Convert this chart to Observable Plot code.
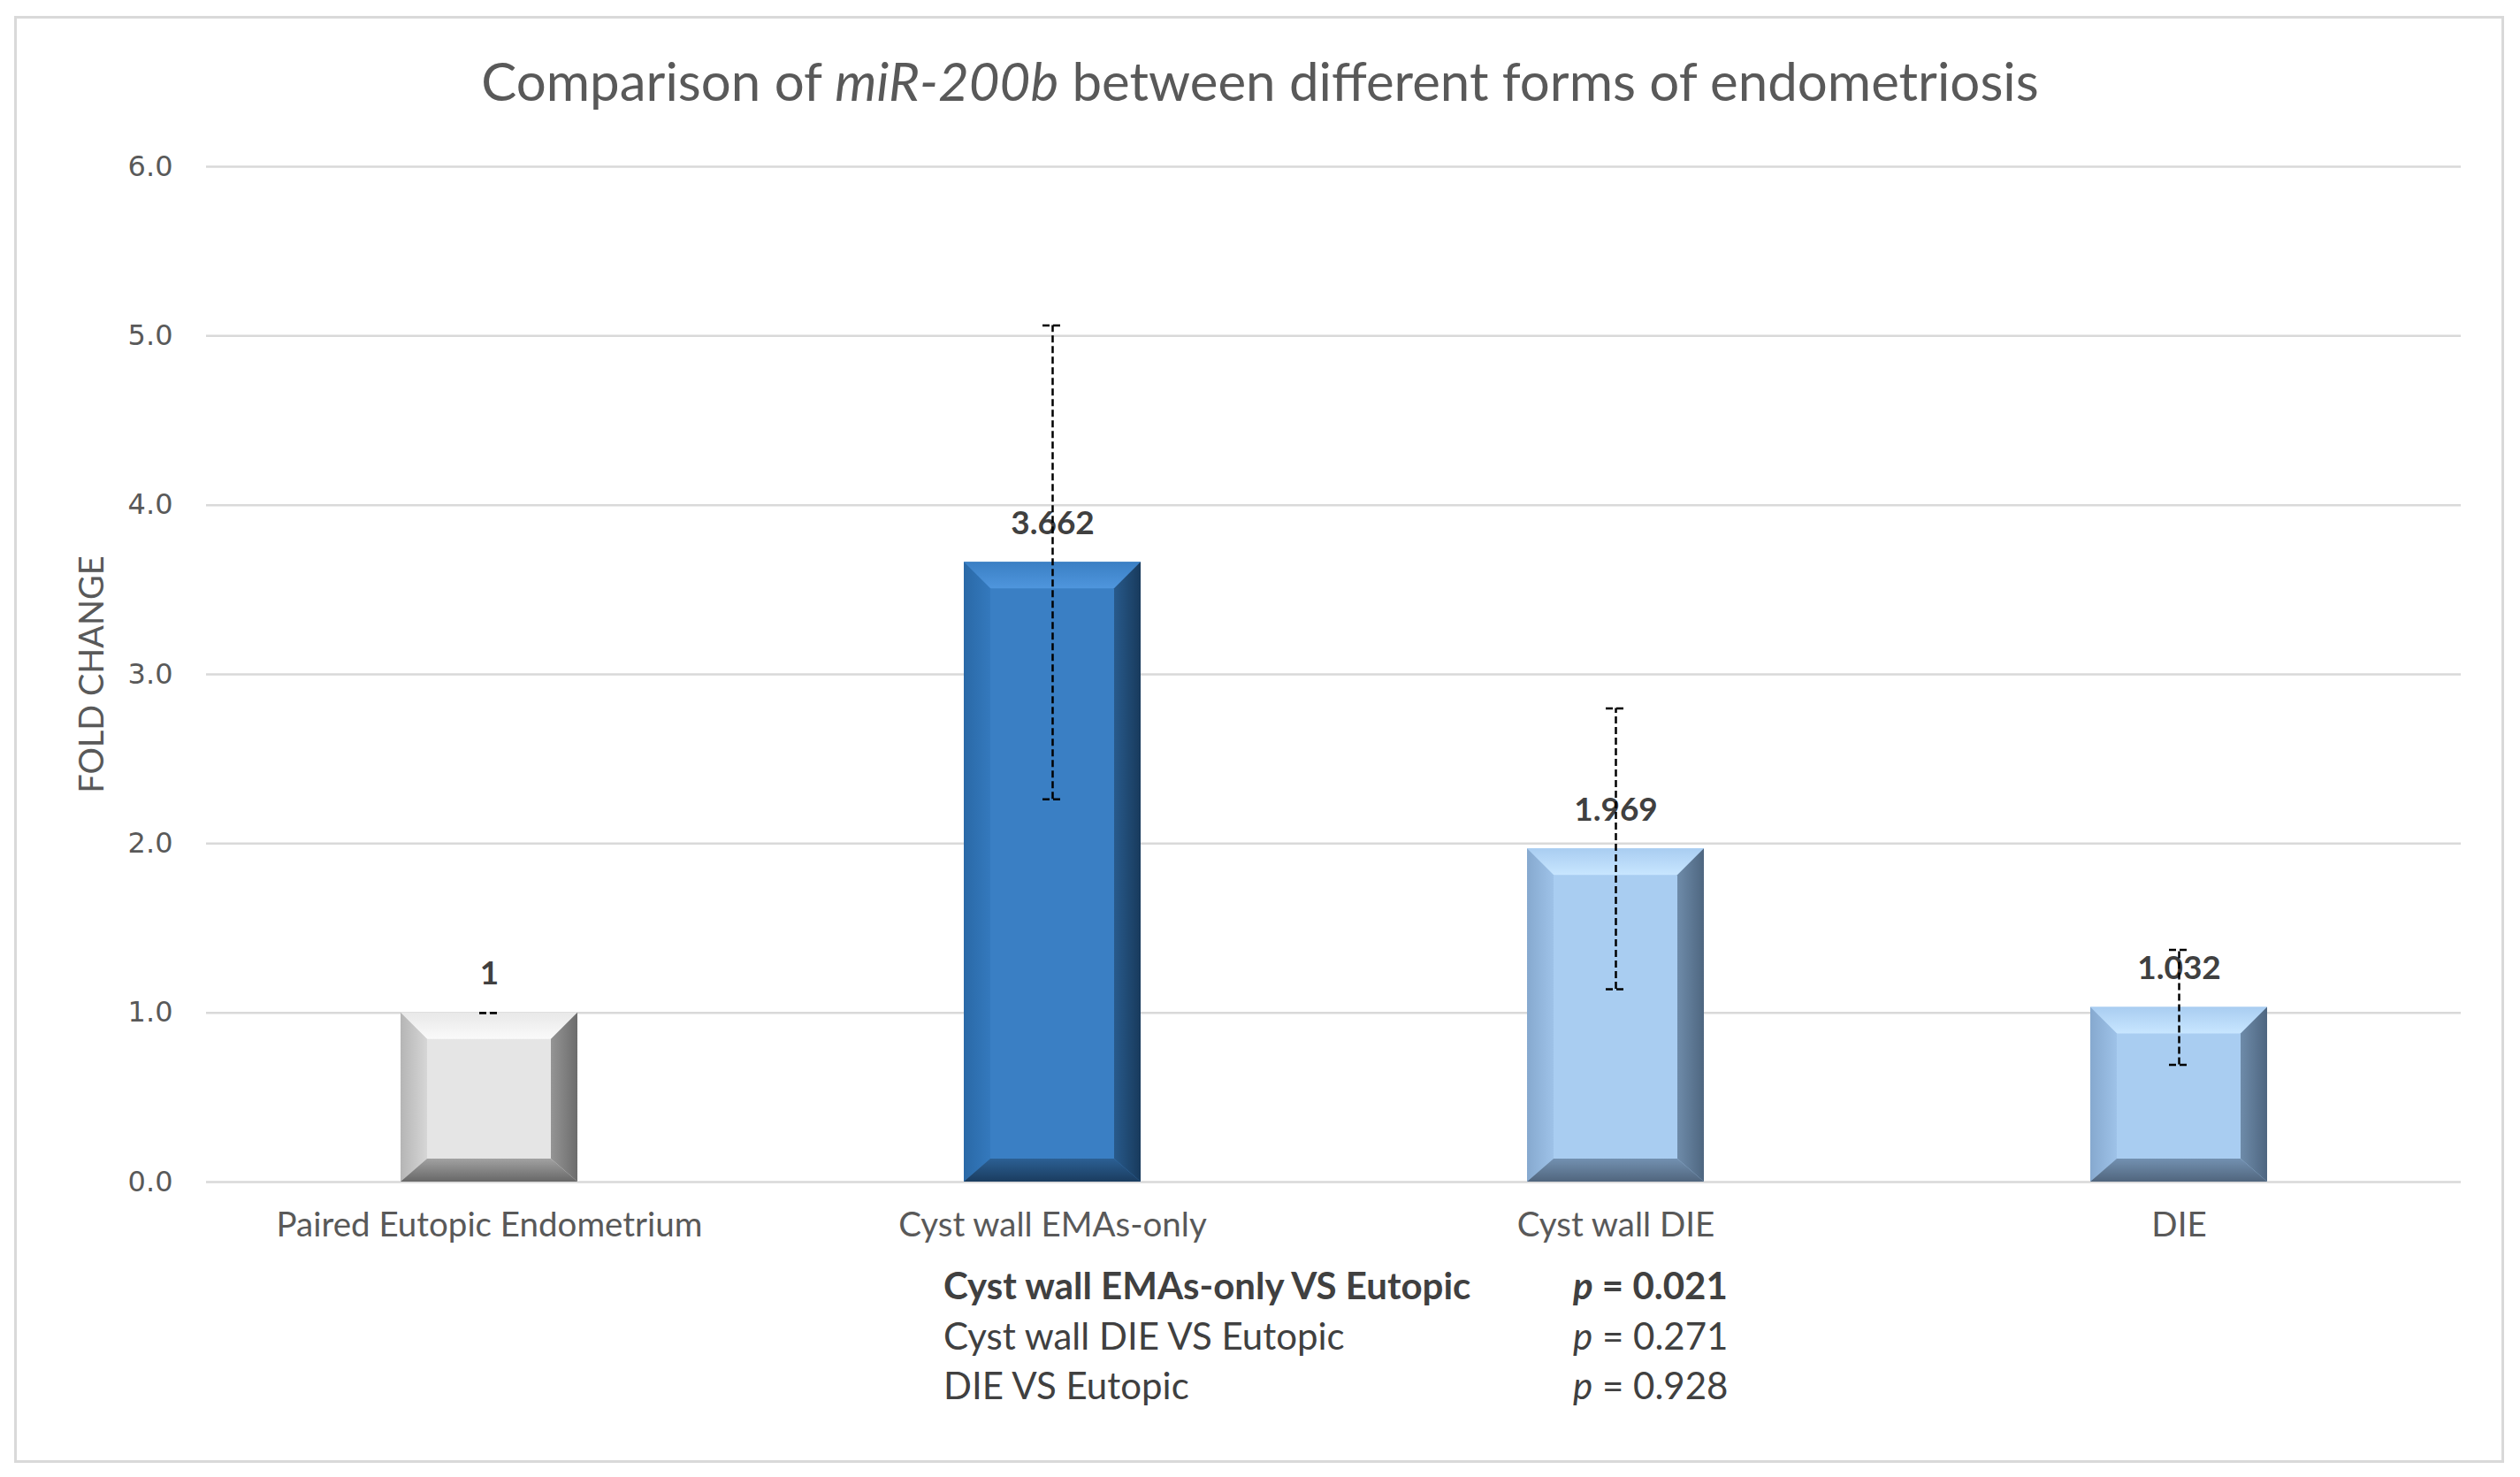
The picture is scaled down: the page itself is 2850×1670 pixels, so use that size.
<!DOCTYPE html>
<html><head><meta charset="utf-8">
<script src="https://cdn.jsdelivr.net/npm/d3@7"></script>
<script src="https://cdn.jsdelivr.net/npm/@observablehq/plot@0.6"></script>
<style>
html,body{margin:0;padding:0;background:#fff;}
#page{position:relative;width:2850px;height:1670px;overflow:hidden;background:#fff;font-family:Lato,"Open Sans",sans-serif;}
#frame{position:absolute;left:16px;top:18px;width:2816px;height:1636px;border:3px solid #d9d9d9;box-sizing:border-box;}
#title{position:absolute;left:0;width:2850px;top:56px;text-align:center;font-size:60px;color:#595959;line-height:70px;white-space:nowrap;}
#chart{position:absolute;left:0;top:0;}
.row{position:absolute;white-space:nowrap;font-size:42px;color:#404040;line-height:56px;}
</style></head>
<body><div id="page"><div id="frame"></div><div id="title"></div><div id="chart"></div><div id="stats"></div></div>
<script>
// ---- data ----
const categories = ["Paired Eutopic Endometrium", "Cyst wall EMAs-only", "Cyst wall DIE", "DIE"];
const foldChange = [1, 3.662, 1.969, 1.032];
const errorSize = [0, 1.40, 0.83, 0.34];
const yTicks = [0, 1, 2, 3, 4, 5, 6];
const comparisons = ["Cyst wall EMAs-only VS Eutopic", "Cyst wall DIE VS Eutopic", "DIE VS Eutopic"];
const pValues = ["0.021", "0.271", "0.928"];
const significant = [true, false, false];
const titleBefore = "Comparison of ";
const titleGene = "miR-200b";
const titleAfter = " between different forms of endometriosis";
const yLabel = "FOLD CHANGE";

// ---- styles ----
const faces = ["#e5e5e5", "#3a7fc4", "#a9cdf1", "#a9cdf1"];
const bevel = [
  {top:["#e8e8e8","#fafafa"], left:["#b5b5b5","#d6d6d6"], right:["#6c6c6c","#959595"], bottom:["#676767","#a2a2a2"]},
  {top:["#3a7fc4","#4f96dd"], left:["#2a69a7","#3479bd"], right:["#183a5c","#285a8b"], bottom:["#1a3c5f","#2c6094"]},
  {top:["#a9cdf1","#c8e6ff"], left:["#86a9cf","#9ec2e8"], right:["#4e6680","#6e8ba9"], bottom:["#50657d","#7391b1"]},
  {top:["#a9cdf1","#c8e6ff"], left:["#86a9cf","#9ec2e8"], right:["#4e6680","#6e8ba9"], bottom:["#50657d","#7391b1"]}
];

const data = categories.map((c, i) => ({category: c, value: foldChange[i], err: errorSize[i], idx: i}));

const capHalf = 11;
const barBand = 200;
const capInset = barBand / 2 - capHalf;

const plot = Plot.plot({
  width: 2850, height: 1480,
  marginLeft: 233, marginRight: 67, marginTop: 188, marginBottom: 144,
  style: {fontFamily: "Lato", background: "transparent", overflow: "visible"},
  x: {domain: categories, paddingInner: 0.6863, paddingOuter: 0.34315, label: null},
  y: {domain: [0, 6], label: null},
  color: {type: "identity"},
  marks: [
    Plot.gridY(yTicks, {stroke: "#d9d9d9", strokeOpacity: 1, strokeWidth: 2.5}),
    Plot.axisY(yTicks, {tickSize: 0, tickPadding: 38, tickFormat: d => d.toFixed(1), fontSize: 32, fontFamily: "DejaVu Sans", fill: "#595959", label: null}),
    Plot.axisX({tickSize: 0, tickPadding: 34, fontSize: 38.5, fontFamily: "Lato", fill: "#595959", label: null}),
    Plot.barY(data, {x: "category", y: "value", fill: d => faces[d.idx]}),
    Plot.text(data, {x: "category", y: "value", text: d => String(d.value), dy: -44, fontSize: 37, fontWeight: "bold", fill: "#404040", fontFamily: "Lato"}),
    Plot.ruleX(data, {x: "category", y1: d => d.value - d.err, y2: d => d.value + d.err, stroke: "#000", strokeWidth: 2.5, strokeDasharray: "8,4"}),
    Plot.tickY(data, {x: "category", y: d => d.value + d.err, stroke: "#000", strokeWidth: 2.5, strokeDasharray: "8,4", insetLeft: capInset, insetRight: capInset}),
    Plot.tickY(data, {x: "category", y: d => d.value - d.err, stroke: "#000", strokeWidth: 2.5, strokeDasharray: "8,4", insetLeft: capInset, insetRight: capInset}),
    Plot.text([yLabel], {frameAnchor: "left", textAnchor: "middle", rotate: -90, dx: -129, fontSize: 38, fill: "#595959", fontFamily: "Lato"})
  ]
});
document.getElementById("chart").appendChild(plot);

// ---- bevel decoration derived from the rendered bars ----
const svg = d3.select(plot);
const defs = svg.insert("defs", ":first-child");
function grad(id, c0, c1, x1, y1, x2, y2) {
  const g = defs.append("linearGradient").attr("id", id).attr("x1", x1).attr("y1", y1).attr("x2", x2).attr("y2", y2);
  g.append("stop").attr("offset", "0").attr("stop-color", c0);
  g.append("stop").attr("offset", "1").attr("stop-color", c1);
}
svg.selectAll('g[aria-label="bar"] rect').each(function(_, i) {
  const r = d3.select(this);
  const x = +r.attr("x"), y = +r.attr("y"), w = +r.attr("width"), h = +r.attr("height");
  const b = 30, bb = 26;
  const bv = bevel[i];
  grad("t" + i, bv.top[0], bv.top[1], 0, 0, 0, 1);
  grad("l" + i, bv.left[0], bv.left[1], 0, 0, 1, 0);
  grad("r" + i, bv.right[1], bv.right[0], 0, 0, 1, 0);
  grad("b" + i, bv.bottom[1], bv.bottom[0], 0, 0, 0, 1);
  const parent = d3.select(this.parentNode);
  const pts = a => a.map(p => p.join(",")).join(" ");
  parent.append("polygon").attr("points", pts([[x,y],[x+w,y],[x+w-b,y+b],[x+b,y+b]])).attr("fill", `url(#t${i})`);
  parent.append("polygon").attr("points", pts([[x,y],[x+b,y+b],[x+b,y+h-bb],[x,y+h]])).attr("fill", `url(#l${i})`);
  parent.append("polygon").attr("points", pts([[x+w,y],[x+w,y+h],[x+w-b,y+h-bb],[x+w-b,y+b]])).attr("fill", `url(#r${i})`);
  parent.append("polygon").attr("points", pts([[x,y+h],[x+b,y+h-bb],[x+w-b,y+h-bb],[x+w,y+h]])).attr("fill", `url(#b${i})`);
});

// ---- title ----
const t = document.getElementById("title");
t.append(titleBefore);
const it = document.createElement("i"); it.textContent = titleGene; t.appendChild(it);
t.append(titleAfter);

// ---- stats below the chart ----
const stats = document.getElementById("stats");
const rowCenters = [1453, 1510, 1566];
comparisons.forEach((c, i) => {
  const a = document.createElement("div");
  a.className = "row"; a.style.left = "1067px"; a.style.top = (rowCenters[i] - 28) + "px";
  a.textContent = c; if (significant[i]) a.style.fontWeight = "bold";
  const p = document.createElement("div");
  p.className = "row"; p.style.left = "1779px"; p.style.top = (rowCenters[i] - 28) + "px";
  p.innerHTML = "<i>p</i> = " + pValues[i]; if (significant[i]) p.style.fontWeight = "bold";
  stats.appendChild(a); stats.appendChild(p);
});
</script>
</body></html>
